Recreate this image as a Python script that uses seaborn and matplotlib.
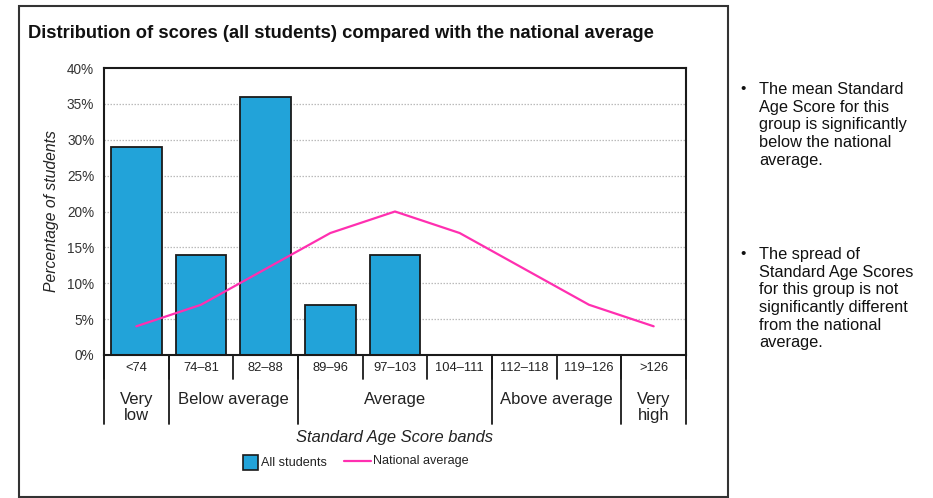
import numpy as np
import pandas as pd
import seaborn as sns
import matplotlib
matplotlib.use("Agg")
import matplotlib.pyplot as plt
from matplotlib.transforms import blended_transform_factory
from matplotlib.lines import Line2D
from matplotlib.patches import Rectangle

# Score bands and the share of students in each
bands = ["<74", "74\u201381", "82\u201388", "89\u201396", "97\u2013103",
         "104\u2013111", "112\u2013118", "119\u2013126", ">126"]
all_students = [29, 14, 36, 7, 14, 0, 0, 0, 0]
national_average = [4, 7, 12, 17, 20, 17, 12, 7, 4]

# Descriptive groups spanning the bands: (label, first band, last band)
group_labels = ["Very\nlow", "Below average", "Average", "Above average", "Very\nhigh"]
group_first = [0, 1, 3, 6, 8]
group_last = [0, 2, 5, 7, 8]

y_ticks = [0, 5, 10, 15, 20, 25, 30, 35, 40]

title = "Distribution of scores (all students) compared with the national average"
notes = [
    "The mean Standard\nAge Score for this\ngroup is significantly\nbelow the national\naverage.",
    "The spread of\nStandard Age Scores\nfor this group is not\nsignificantly different\nfrom the national\naverage.",
]

sns.set_style("white")
plt.rcParams["font.family"] = ["Liberation Sans", "DejaVu Sans"]

W, H = 933, 498
fig = plt.figure(figsize=(W / 100, H / 100), dpi=100)


def fx(px):
    return px / W


def fy(py):
    return 1 - py / H


ax = fig.add_axes([fx(104), fy(355), fx(686) - fx(104), fy(68) - fy(355)])

bar_color = "#22a3d9"
line_color = "#ff2fb0"
dark = "#1a1a1a"

df = pd.DataFrame({"band": bands, "pct": all_students, "nat": national_average})

sns.barplot(data=df, x="band", y="pct", order=bands, color=bar_color,
            saturation=1, width=0.78, edgecolor=dark, linewidth=1.3,
            ax=ax, zorder=2)
sns.lineplot(x=np.arange(len(bands)), y=df["nat"], color=line_color,
             linewidth=1.6, ax=ax, zorder=3)

ax.set_xlim(-0.5, len(bands) - 0.5)
ax.set_ylim(0, 40)
ax.set_yticks(y_ticks)
ax.set_yticklabels([f"{v}%" for v in y_ticks], fontsize=9.8, color="#333333")
ax.set_xticks(np.arange(len(bands)))
ax.set_xticklabels([])
ax.tick_params(axis="x", length=3, width=0.8, color="#555555", direction="out")
ax.tick_params(axis="y", length=0, pad=7)
ax.set_xlabel("")
ax.set_ylabel("Percentage of students", fontsize=11.3, style="italic",
              color="#222222", labelpad=6)

for v in y_ticks[1:-1]:
    ax.axhline(v, color="#bbbbbb", linestyle=(0, (1.2, 1.2)), linewidth=0.9, zorder=1)

for s in ax.spines.values():
    s.set_color(dark)
    s.set_linewidth(1.5)

# Band table beneath the axis
tr = blended_transform_factory(ax.transData, fig.transFigure)
for k in range(len(bands) + 1):
    ax.add_line(Line2D([k - 0.5, k - 0.5], [fy(355), fy(379)], transform=tr,
                       color=dark, linewidth=1.3, clip_on=False))
for i, b in enumerate(bands):
    ax.text(i, fy(368), b, transform=tr, ha="center", va="center",
            fontsize=9.3, color="#222222")

bounds = sorted(set([f - 0.5 for f in group_first] + [l + 0.5 for l in group_last]))
for b in bounds:
    ax.add_line(Line2D([b, b], [fy(355), fy(424)], transform=tr,
                       color=dark, linewidth=1.3, clip_on=False))
for lab, a, b in zip(group_labels, group_first, group_last):
    ax.text((a + b) / 2, fy(392), lab, transform=tr, ha="center", va="top",
            fontsize=12, color="#222222", linespacing=1.05)

fig.text(fx(395), fy(437), "Standard Age Score bands", ha="center", va="center",
         fontsize=11.9, style="italic", color="#222222")

# Legend
fig.add_artist(Rectangle((fx(243), fy(470)), fx(15), 15 / H, facecolor=bar_color,
                         edgecolor=dark, linewidth=1.2, transform=fig.transFigure))
fig.text(fx(261), fy(463), "All students", ha="left", va="center", fontsize=9.1,
         color="#222222")
fig.add_artist(Line2D([fx(344), fx(371)], [fy(461), fy(461)], color=line_color,
                      linewidth=1.6, transform=fig.transFigure))
fig.text(fx(373), fy(461), "National average", ha="left", va="center", fontsize=9.1,
         color="#222222")

# Title and outer frame
fig.text(fx(28), fy(33), title, ha="left", va="center", fontsize=13.2,
         fontweight="bold", color="#111111")
fig.add_artist(Rectangle((fx(19), fy(497)), fx(728) - fx(19), fy(6) - fy(497),
                         fill=False, edgecolor="#333333", linewidth=1.5,
                         transform=fig.transFigure))

# Notes on the right
for note, top in zip(notes, [82, 247]):
    fig.text(fx(740), fy(top), "\u2022", ha="left", va="top", fontsize=11,
             color="#111111")
    fig.text(fx(759), fy(top), note, ha="left", va="top", fontsize=11.8,
             color="#111111", linespacing=1.22)

fig.savefig("out.png", dpi=100)
